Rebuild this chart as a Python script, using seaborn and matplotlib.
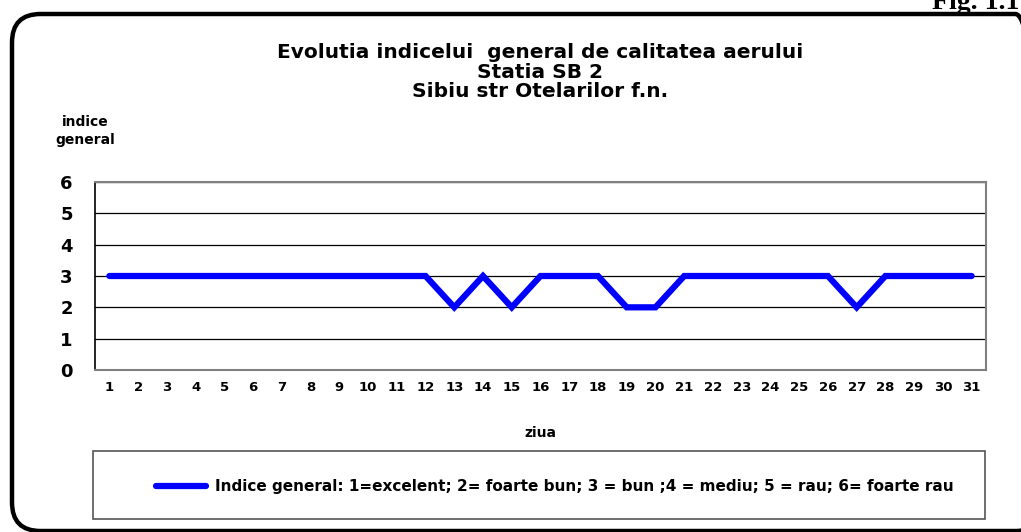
import pandas as pd
import numpy as np
import matplotlib.pyplot as plt
import seaborn as sns
from matplotlib.patches import FancyBboxPatch, Rectangle
from matplotlib.lines import Line2D

# data
zile = list(range(1, 32))
indice = [3, 3, 3, 3, 3, 3, 3, 3, 3, 3, 3, 3, 2, 3, 2, 3, 3, 3, 2, 2,
          3, 3, 3, 3, 3, 3, 2, 3, 3, 3, 3]
y_ticks = [0, 1, 2, 3, 4, 5, 6]

titlu = "Evolutia indicelui  general de calitatea aerului\nStatia SB 2\nSibiu str Otelarilor f.n."
legenda = "Indice general: 1=excelent; 2= foarte bun; 3 = bun ;4 = mediu; 5 = rau; 6= foarte rau"

df = pd.DataFrame({'ziua': zile, 'indice': indice})

sns.set_theme(style="white")
plt.rcParams['font.family'] = ['DejaVu Sans']
plt.rcParams['font.weight'] = 'bold'
plt.rcParams['text.color'] = 'black'
plt.rcParams['xtick.color'] = 'black'
plt.rcParams['ytick.color'] = 'black'
plt.rcParams['axes.labelcolor'] = 'black'

W, H = 1021, 532
fig = plt.figure(figsize=(W / 100, H / 100), dpi=100)
fig.patch.set_facecolor('white')

# outer rounded frame (runs off the right edge)
frame = FancyBboxPatch((12 / W, 1 - 531 / H), 1032 / W, 517 / H,
                       boxstyle="round,pad=0,rounding_size=0.028",
                       transform=fig.transFigure, fill=False,
                       edgecolor='black', linewidth=3.2, mutation_aspect=W / H)
fig.patches.append(frame)

fig.text(932 / W, 1 - 9 / H, "Fig. 1.1", ha='left', va='baseline', fontsize=20,
         fontweight='bold', family='Liberation Serif')

ax = fig.add_axes([95 / W, 1 - 370 / H, (986 - 95) / W, (370 - 182) / H])
sns.lineplot(ax=ax, data=df, x='ziua', y='indice', color='#0000FF', linewidth=4.5,
             solid_capstyle='round', solid_joinstyle='miter', zorder=3)

ax.set_xlim(0.5, 31.5)
ax.set_ylim(0, 6)
ax.set_xticks(zile)
ax.set_yticks(y_ticks)
ax.set_xticklabels([str(z) for z in zile], fontsize=9.5, fontweight='bold')
ax.set_yticklabels([str(v) for v in y_ticks], fontsize=13, fontweight='bold')
ax.tick_params(axis='x', length=0, pad=8)
ax.tick_params(axis='y', length=0, pad=16)
ax.yaxis.grid(True, color='black', linewidth=0.9)
ax.xaxis.grid(False)
for s in ['top', 'right', 'bottom']:
    ax.spines[s].set_color('#808080')
    ax.spines[s].set_linewidth(1.5)
ax.spines['left'].set_color('black')
ax.spines['left'].set_linewidth(1.2)
ax.set_xlabel('ziua', fontsize=10, fontweight='bold', labelpad=23)
ax.set_ylabel('')

fig.text(540 / W, 1 - 72 / H, titlu, ha='center', va='center', fontsize=14.5,
         fontweight='bold', linespacing=1.04)
fig.text(85 / W, 1 - 131 / H, "indice\ngeneral", ha='center', va='center',
         fontsize=10, fontweight='bold', linespacing=1.35)

# legend box
fig.patches.append(Rectangle((93 / W, 1 - 519 / H), (985 - 93) / W, (519 - 451) / H,
                             transform=fig.transFigure, fill=False,
                             edgecolor='#555555', linewidth=1.2))
handle = Line2D([0], [0], color='#0000FF', linewidth=4.5, solid_capstyle='round')
fig.legend([handle], [legenda], loc='center', bbox_to_anchor=(555 / W, 1 - 487 / H),
           frameon=False, handlelength=3.3, handletextpad=0.6,
           prop={'size': 11, 'weight': 'bold'})

plt.savefig('out.png', dpi=100)
